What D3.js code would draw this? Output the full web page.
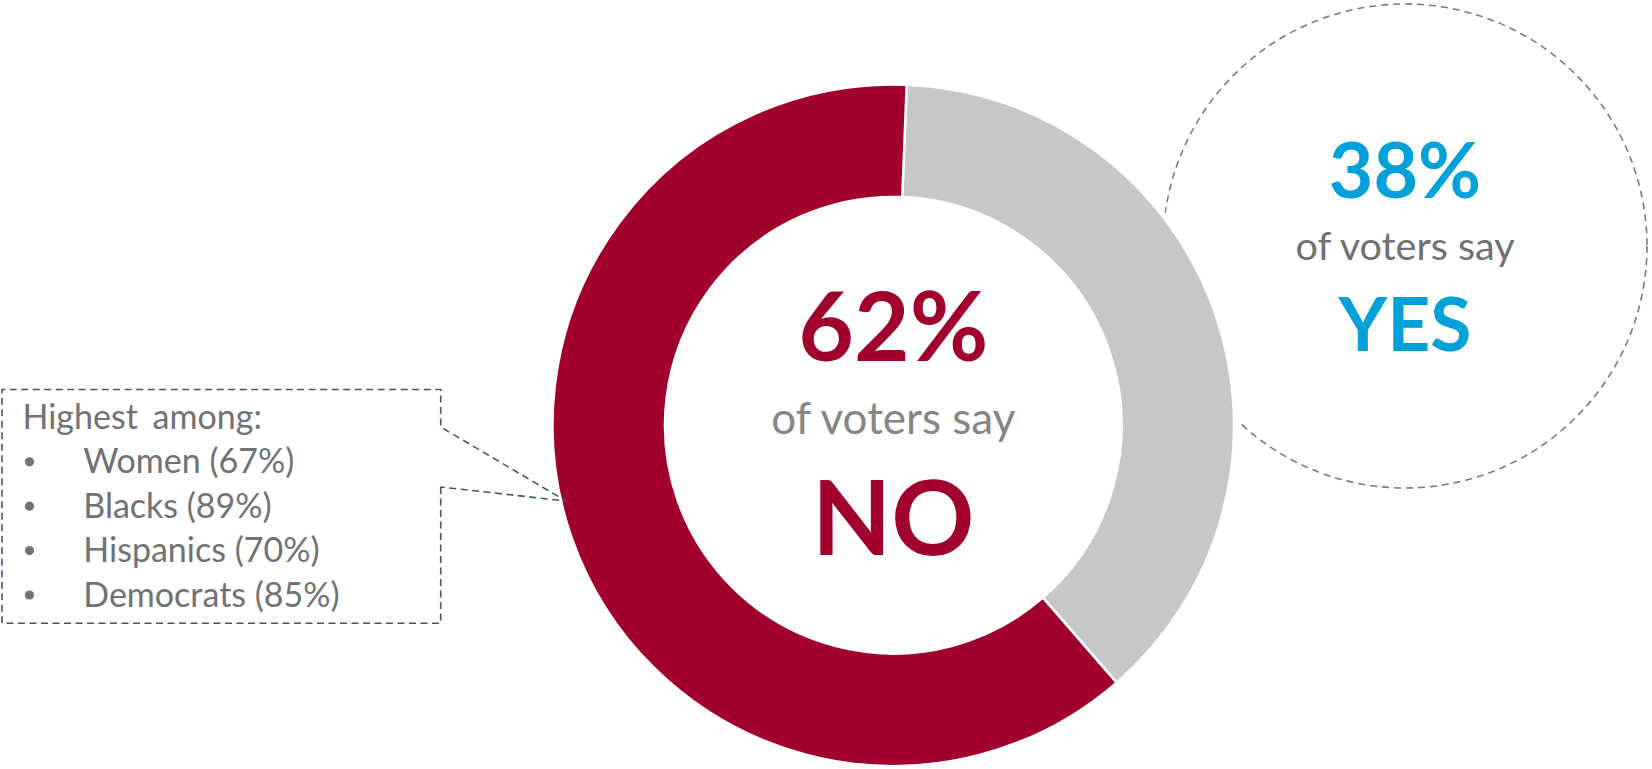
<!DOCTYPE html>
<html>
<head>
<meta charset="utf-8">
<script src="https://cdn.jsdelivr.net/npm/d3@7"></script>
<style>
  html, body { margin: 0; padding: 0; background: #ffffff; }
  svg { display: block; }
  text { font-family: Lato, "Open Sans", sans-serif; }
</style>
</head>
<body>
<svg id="chart" width="1652" height="769"></svg>
<script>
// ---- data ----
const categories = ["YES", "NO"];
const values = [38, 62];
const subLabel = "of voters say";
const legendTitle = "Highest among:";
const groups = ["Women", "Blacks", "Hispanics", "Democrats"];
const groupValues = [67, 89, 70, 85];

// ---- layout / style ----
const W = 1652, H = 769;
const cx = 893.3, cy = 425.2, R = 340.8, r = 228.3;
const startAngle = 0.0393;
const sliceColors = { YES: "#C6C7C9", NO: "#A0002B" };
const textColors = { YES: "#00A0D8", NO: "#A0002B" };

const svg = d3.select("#chart");
svg.append("rect").attr("width", W).attr("height", H).attr("fill", "#fff");

// dashed YES circle
const yc = { x: 1405, y: 246, r: 242 };
svg.append("circle")
  .attr("cx", yc.x).attr("cy", yc.y).attr("r", yc.r)
  .attr("fill", "none").attr("stroke", "#7a7a7c")
  .attr("stroke-width", 1.6).attr("stroke-dasharray", "7,5");

// white halo under donut
svg.append("circle").attr("cx", cx).attr("cy", cy).attr("r", R + 4.5).attr("fill", "#fff");

// donut
const pie = d3.pie().sort(null).value(d => d.v)
  .startAngle(startAngle).endAngle(startAngle + 2 * Math.PI);
const arc = d3.arc().innerRadius(r).outerRadius(R);
const data = categories.map((c, i) => ({ c, v: values[i] }));
const g = svg.append("g").attr("transform", `translate(${cx},${cy})`);
g.selectAll("path").data(pie(data)).join("path")
  .attr("d", arc)
  .attr("fill", d => sliceColors[d.data.c])
  .attr("stroke", "#fff").attr("stroke-width", 2.5);

const pct = d3.format(".0f");

// center NO text
svg.append("text").attr("x", cx).attr("y", 361).attr("text-anchor", "middle")
  .attr("font-size", 96).attr("font-weight", 700).attr("fill", textColors.NO)
  .text(pct(values[1]) + "%");
svg.append("text").attr("x", cx).attr("y", 434).attr("text-anchor", "middle")
  .attr("font-size", 44).attr("fill", "#858585")
  .text(subLabel);
svg.append("text").attr("x", cx).attr("y", 555).attr("text-anchor", "middle")
  .attr("font-size", 103).attr("font-weight", 700).attr("fill", textColors.NO)
  .text(categories[1]);

// YES text
svg.append("text").attr("x", yc.x).attr("y", 198).attr("text-anchor", "middle")
  .attr("font-size", 77).attr("font-weight", 700).attr("fill", textColors.YES)
  .text(pct(values[0]) + "%");
svg.append("text").attr("x", yc.x).attr("y", 260).attr("text-anchor", "middle")
  .attr("font-size", 39.5).attr("fill", "#6f7074")
  .text(subLabel);
svg.append("text").attr("x", yc.x).attr("y", 351).attr("text-anchor", "middle")
  .attr("font-size", 75).attr("font-weight", 700).attr("fill", textColors.YES)
  .text(categories[0]);

// legend callout box
const bx0 = 2, by0 = 389.5, bx1 = 440.7, by1 = 623.3;
const tip = [566, 501];
const calloutPath = d3.path();
calloutPath.moveTo(bx1, 487);
calloutPath.lineTo(bx1, by1);
calloutPath.lineTo(bx0, by1);
calloutPath.lineTo(bx0, by0);
calloutPath.lineTo(bx1, by0);
calloutPath.lineTo(bx1, 427);
calloutPath.lineTo(tip[0], tip[1]);
calloutPath.lineTo(bx1, 487);
svg.append("path").attr("d", calloutPath.toString())
  .attr("fill", "none").attr("stroke", "#44546A")
  .attr("stroke-width", 1.6).attr("stroke-dasharray", "7,4.5");

const legendColor = "#707175";
svg.append("text").attr("x", 22.5).attr("y", 429.3)
  .attr("font-size", 34).attr("word-spacing", 6).attr("fill", legendColor).text(legendTitle);
const lineGap = 44.4;
groups.forEach((gname, i) => {
  const y = 473.3 + i * lineGap;
  svg.append("circle").attr("cx", 29.5).attr("cy", y - 11.5).attr("r", 4.6).attr("fill", legendColor);
  svg.append("text").attr("x", 83.3).attr("y", y)
    .attr("font-size", 34).attr("fill", legendColor)
    .text(`${gname} (${pct(groupValues[i])}%)`);
});
</script>
</body>
</html>
